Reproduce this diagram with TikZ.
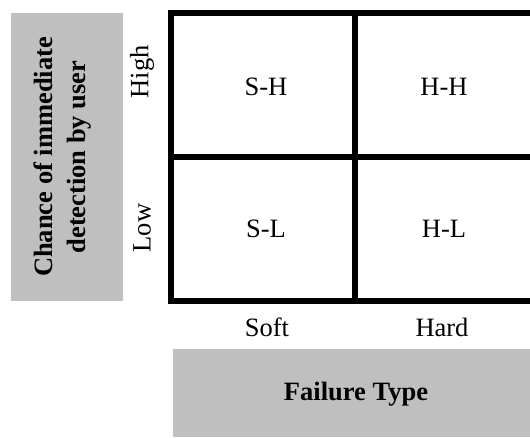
\documentclass[tikz,border=0pt]{standalone}
\usepackage{fontspec}
\setmainfont{Liberation Serif}
\begin{document}
\begin{tikzpicture}[x=1pt,y=-1pt,
  lbl/.style={font=\fontsize{26.5}{33}\selectfont, inner sep=0pt},
  blbl/.style={font=\fontsize{26.5}{33}\selectfont\bfseries, inner sep=0pt, align=center},
  gridline/.style={line width=6.5pt, line cap=rect},
  panel/.style={fill=gray!50!white, draw=none}]
\useasboundingbox (0,0) rectangle (530,438);
\clip (0,0) rectangle (530,438);
% gray panels
\fill[panel] (11,13) rectangle (123,301);
\fill[panel] (173,349) rectangle (545,437);
% grid
\coordinate (tl) at (171,13);
\coordinate (br) at (538,301);
\draw[gridline] (tl) rectangle (br);
\draw[gridline] (355,13) -- (355,301);
\draw[gridline] (171,157) -- (538,157);
% labels
\node[blbl, rotate=90] (yaxis) at (63,157) {Chance of immediate\\detection by user};
\node[blbl] (xaxis) at (356,394) {Failure Type};
\node[lbl, rotate=90] (high) at (142,72) {High};
\node[lbl, rotate=90] (low) at (142,228) {Low};
\node[lbl] (soft) at (267,327) {Soft};
\node[lbl] (hard) at (442,327) {Hard};
\node[lbl] (sh) at (266,87) {S-H};
\node[lbl] (hh) at (444,87) {H-H};
\node[lbl] (sl) at (266,229) {S-L};
\node[lbl] (hl) at (444,229) {H-L};
\end{tikzpicture}
\end{document}
